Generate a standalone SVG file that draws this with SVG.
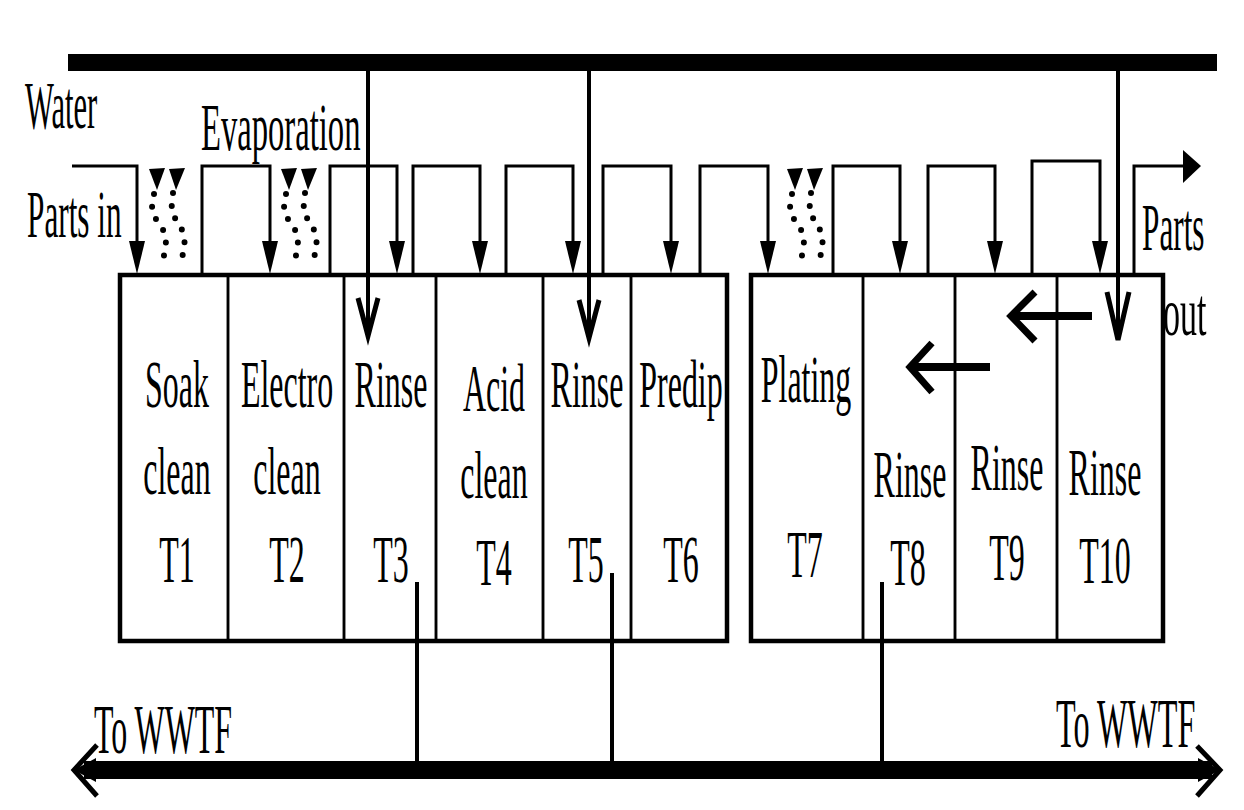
<svg xmlns="http://www.w3.org/2000/svg" width="1244" height="810" viewBox="0 0 1244 810">
<style>
.t{font-family:"Liberation Serif","Times New Roman",serif;font-size:68px;fill:#000}
.m{text-anchor:middle}
.tank{fill:none;stroke:#000;stroke-width:2.5}
.frame{fill:none;stroke:#000;stroke-width:4.5}
.hoist{fill:none;stroke:#000;stroke-width:3}
.pipe{fill:none;stroke:#000;stroke-width:4}
.vee{fill:none;stroke:#000;stroke-width:5;stroke-linejoin:miter}
.dots{fill:none;stroke:#000;stroke-width:6;stroke-linecap:round;stroke-dasharray:0 13}
</style>
<defs>
<polygon id="dn" points="-8,-33 8,-33 0,0" fill="#000"/>
<g id="evap">
<path class="dots" d="M154,194 C150,205 152,215 160,225 C168,235 168,252 159,266"/>
<path class="dots" d="M173,193 C170,205 172,215 179,225 C187,235 186,252 178,266"/>
<polygon points="149,169 165,168 157,190" fill="#000"/>
<polygon points="169,169 185,168 176,190" fill="#000"/>
</g>
</defs>
<rect width="1244" height="810" fill="#fff"/>

<g id="labels">
<text class="t" transform="translate(25,128) scale(0.45,1)">Water</text>
<text class="t" transform="translate(27,237) scale(0.46,1)">Parts in</text>
<text class="t" transform="translate(201,150) scale(0.48,1)">Evaporation</text>
<text class="t" transform="translate(1142,250) scale(0.46,1)">Parts</text>
<text class="t" transform="translate(1163,335) scale(0.5,1)">out</text>
<text class="t" transform="translate(94,753) scale(0.456,1)" style="font-size:70px">To WWTF</text>
<text class="t" transform="translate(1056,747) scale(0.46,1)" style="font-size:70px">To WWTF</text>
</g>

<g id="T1"><rect class="tank" x="120" y="275" width="108" height="366"/>
<text class="t m" transform="translate(177,407) scale(0.47,1)">Soak</text>
<text class="t m" transform="translate(177,494) scale(0.47,1)">clean</text>
<text class="t m" transform="translate(177,582) scale(0.47,1)">T1</text></g>
<g id="T2"><rect class="tank" x="228" y="275" width="116" height="366"/>
<text class="t m" transform="translate(287,407) scale(0.47,1)">Electro</text>
<text class="t m" transform="translate(287,494) scale(0.47,1)">clean</text>
<text class="t m" transform="translate(287,582) scale(0.47,1)">T2</text></g>
<g id="T3"><rect class="tank" x="344" y="275" width="92" height="366"/>
<text class="t m" transform="translate(391,407) scale(0.47,1)">Rinse</text>
<text class="t m" transform="translate(391,582) scale(0.47,1)">T3</text></g>
<g id="T4"><rect class="tank" x="436" y="275" width="107" height="366"/>
<text class="t m" transform="translate(494,411) scale(0.47,1)">Acid</text>
<text class="t m" transform="translate(494,498) scale(0.47,1)">clean</text>
<text class="t m" transform="translate(494,585) scale(0.47,1)">T4</text></g>
<g id="T5"><rect class="tank" x="543" y="275" width="88" height="366"/>
<text class="t m" transform="translate(587,407) scale(0.47,1)">Rinse</text>
<text class="t m" transform="translate(586,582) scale(0.47,1)">T5</text></g>
<g id="T6"><rect class="tank" x="631" y="275" width="96" height="366"/>
<text class="t m" transform="translate(681,407) scale(0.47,1)">Predip</text>
<text class="t m" transform="translate(681,582) scale(0.47,1)">T6</text></g>
<g id="T7"><rect class="tank" x="751" y="275" width="112" height="366"/>
<text class="t m" transform="translate(806,402) scale(0.47,1)">Plating</text>
<text class="t m" transform="translate(805,577) scale(0.47,1)">T7</text></g>
<g id="T8"><rect class="tank" x="863" y="275" width="92" height="366"/>
<text class="t m" transform="translate(910,497) scale(0.47,1)">Rinse</text>
<text class="t m" transform="translate(908,585) scale(0.47,1)">T8</text></g>
<g id="T9"><rect class="tank" x="955" y="275" width="102" height="366"/>
<text class="t m" transform="translate(1007,490) scale(0.47,1)">Rinse</text>
<text class="t m" transform="translate(1007,580) scale(0.47,1)">T9</text></g>
<g id="T10"><rect class="tank" x="1057" y="275" width="106" height="366"/>
<text class="t m" transform="translate(1105,495) scale(0.47,1)">Rinse</text>
<text class="t m" transform="translate(1105,583) scale(0.47,1)">T10</text></g>

<g id="frames">
<rect class="frame" x="120" y="275" width="607" height="366"/>
<rect class="frame" x="751" y="275" width="412" height="366"/>
</g>

<g id="connectors">
<rect x="68" y="54" width="1149" height="17" fill="#000"/>
<path class="pipe" d="M368,71V336M589,71V338M1118,71V340"/>
<path class="vee" d="M358,298L368,336L378,298M579,300L589,338L599,300M1107,292L1118,340L1129,292"/>
<path d="M1092,316H1014M990,367H914" fill="none" stroke="#000" stroke-width="8"/>
<path d="M1035,292L1011,316L1035,341M932,343L910,367L932,392" fill="none" stroke="#000" stroke-width="7"/>
<path class="hoist" d="M72,166H137V242M202,275V166H270V242M330,275V166H397V242M413,275V166H480V242M506,275V166H573V242M603,275V166H671V242M700,275V166H768V242M833,275V166H900V242M928,275V166H995V242M1032,275V161H1100V242M1134,275V166H1186"/>
<use href="#dn" x="137" y="274"/>
<use href="#dn" x="270" y="274"/>
<use href="#dn" x="397" y="274"/>
<use href="#dn" x="480" y="274"/>
<use href="#dn" x="573" y="274"/>
<use href="#dn" x="671" y="274"/>
<use href="#dn" x="768" y="274"/>
<use href="#dn" x="900" y="274"/>
<use href="#dn" x="995" y="274"/>
<use href="#dn" x="1100" y="274"/>
<polygon points="1183,150 1201,166 1183,183" fill="#000"/>
<use href="#evap"/>
<use href="#evap" x="132"/>
<use href="#evap" x="638"/>
<path class="pipe" d="M417,582V770M612,573V770M882,582V770"/>
<rect x="84" y="761" width="1128" height="18" fill="#000"/>
<path d="M97,745L74,770L97,796M1197,746L1220,770L1197,796" fill="none" stroke="#000" stroke-width="5"/>
<polygon points="74,770 96,758 96,782" fill="#000"/>
<polygon points="1220,770 1198,758 1198,782" fill="#000"/>
</g>
</svg>
